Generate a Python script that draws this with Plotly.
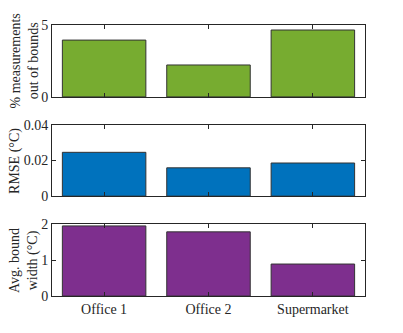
import plotly.graph_objects as go

# data
sites = ["Office 1", "Office 2", "Supermarket"]
pct_out = [3.95, 2.22, 4.65]
rmse = [0.0246, 0.0159, 0.0186]
bound_width = [1.95, 1.785, 0.89]

colors = ["#77AC30", "#0072BD", "#7E2F8E"]
axis_col = "#262626"
font = dict(family="Liberation Serif, Times New Roman, serif", size=14, color=axis_col)

fig = go.Figure()
# domains shifted to allow for the page's 8px body margin
panels = [
    (pct_out, [0, 5], [0, 5], "% measurements<br>out of bounds", [0.733, 0.949], 0.041),
    (rmse, [0, 0.04], [0, 0.02, 0.04], "RMSE (°C)", [0.435, 0.649], 0.016),
    (bound_width, [0, 2], [0, 1, 2], "Avg. bound<br>width (°C)", [0.135, 0.351], 0.0395),
]

for i, (vals, yr, tv, title, dom, tx) in enumerate(panels):
    n = "" if i == 0 else str(i + 1)
    fig.add_trace(go.Bar(
        x=sites, y=vals, xaxis="x" + n, yaxis="y" + n,
        marker=dict(color=colors[i], line=dict(color="#333333", width=1)),
        width=0.8, showlegend=False,
    ))
    fig.layout["xaxis" + n] = dict(
        domain=[0.109, 0.886], anchor="y" + n, range=[-0.5, 2.5],
        showline=True, linecolor=axis_col, linewidth=1, mirror="ticks",
        ticks="inside", ticklen=4, tickcolor=axis_col, automargin=False,
        showticklabels=(i == 2), showgrid=False, tickfont=font,
    )
    fig.layout["yaxis" + n] = dict(
        domain=dom, anchor="x" + n, range=yr, tickvals=tv,
        showline=True, linecolor=axis_col, linewidth=1, mirror="ticks",
        ticks="inside", ticklen=4, tickcolor=axis_col, automargin=False,
        showgrid=False, zeroline=False, tickfont=font,
    )
    # y titles as annotations so they sit where the reference has them
    fig.add_annotation(
        text=title, textangle=-90, showarrow=False, font=font,
        xref="paper", x=tx, xanchor="center",
        yref="y" + n + " domain", y=0.5, yanchor="middle",
    )

fig.update_layout(
    width=403, height=333,
    margin=dict(l=0, r=0, t=0, b=0),
    paper_bgcolor="white", plot_bgcolor="white",
    font=font, bargap=0.2,
)

fig.write_html("out.html")
